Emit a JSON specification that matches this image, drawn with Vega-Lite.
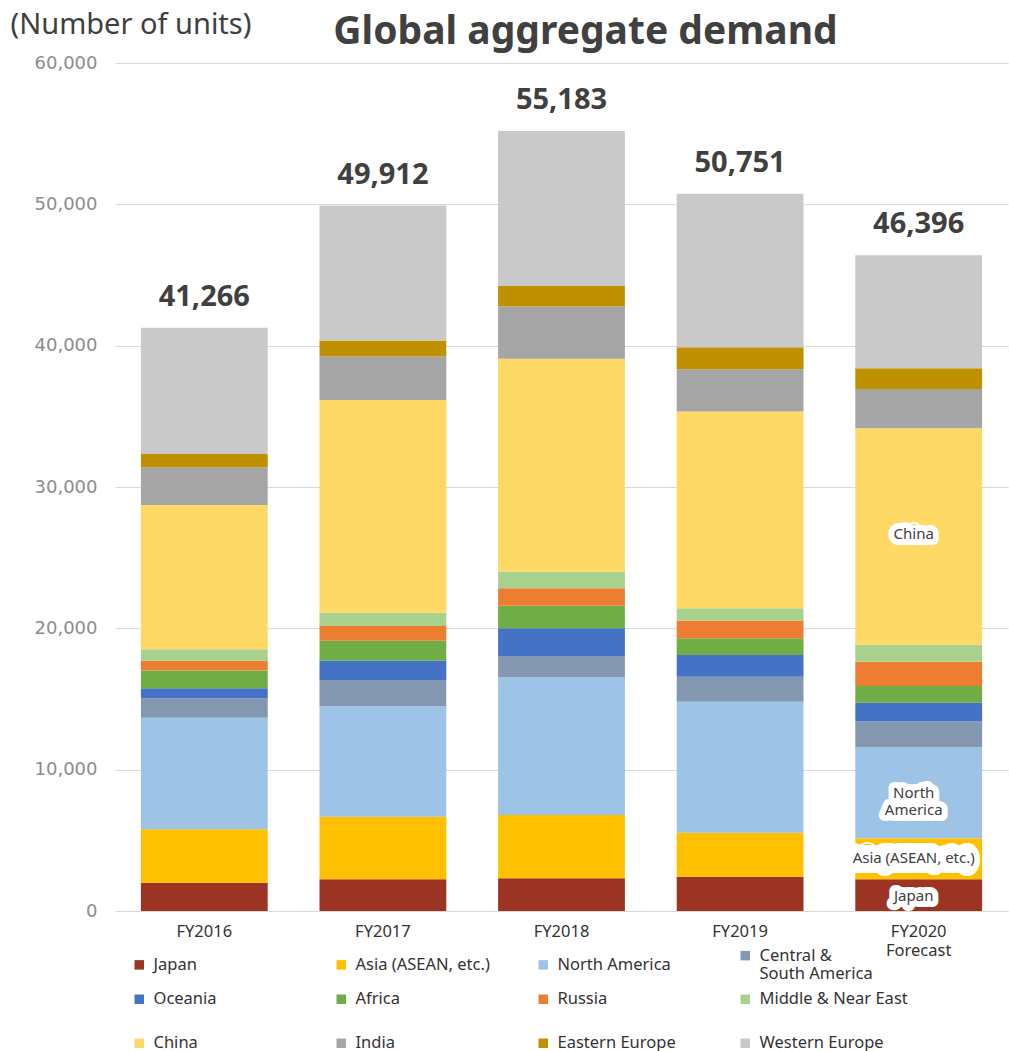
{
  "$schema": "https://vega.github.io/schema/vega-lite/v6.json",
  "width": 893,
  "height": 848,
  "autosize": "none",
  "padding": {"left": 115, "top": 63, "right": 1, "bottom": 140},
  "background": "white",
  "config": {"view": {"stroke": null}, "font": "Noto Sans"},
  "title": {"text": "Global aggregate demand", "fontSize": 39, "fontWeight": "bold", "color": "#404040", "font": "Noto Sans", "anchor": "middle", "dx": 24, "offset": -42},
  "datasets": {
    "demand": [
      {"year": "FY2016", "region": "Japan", "units": 2000},
      {"year": "FY2016", "region": "Asia (ASEAN, etc.)", "units": 3780},
      {"year": "FY2016", "region": "North America", "units": 7900},
      {"year": "FY2016", "region": "Central & South America", "units": 1370},
      {"year": "FY2016", "region": "Oceania", "units": 710},
      {"year": "FY2016", "region": "Africa", "units": 1250},
      {"year": "FY2016", "region": "Russia", "units": 700},
      {"year": "FY2016", "region": "Middle & Near East", "units": 810},
      {"year": "FY2016", "region": "China", "units": 10210},
      {"year": "FY2016", "region": "India", "units": 2670},
      {"year": "FY2016", "region": "Eastern Europe (excluding Russia)", "units": 940},
      {"year": "FY2016", "region": "Western Europe", "units": 8926},
      {"year": "FY2017", "region": "Japan", "units": 2240},
      {"year": "FY2017", "region": "Asia (ASEAN, etc.)", "units": 4430},
      {"year": "FY2017", "region": "North America", "units": 7840},
      {"year": "FY2017", "region": "Central & South America", "units": 1840},
      {"year": "FY2017", "region": "Oceania", "units": 1360},
      {"year": "FY2017", "region": "Africa", "units": 1420},
      {"year": "FY2017", "region": "Russia", "units": 1040},
      {"year": "FY2017", "region": "Middle & Near East", "units": 940},
      {"year": "FY2017", "region": "China", "units": 15050},
      {"year": "FY2017", "region": "India", "units": 3070},
      {"year": "FY2017", "region": "Eastern Europe (excluding Russia)", "units": 1130},
      {"year": "FY2017", "region": "Western Europe", "units": 9552},
      {"year": "FY2018", "region": "Japan", "units": 2310},
      {"year": "FY2018", "region": "Asia (ASEAN, etc.)", "units": 4480},
      {"year": "FY2018", "region": "North America", "units": 9750},
      {"year": "FY2018", "region": "Central & South America", "units": 1510},
      {"year": "FY2018", "region": "Oceania", "units": 1960},
      {"year": "FY2018", "region": "Africa", "units": 1580},
      {"year": "FY2018", "region": "Russia", "units": 1250},
      {"year": "FY2018", "region": "Middle & Near East", "units": 1170},
      {"year": "FY2018", "region": "China", "units": 15060},
      {"year": "FY2018", "region": "India", "units": 3700},
      {"year": "FY2018", "region": "Eastern Europe (excluding Russia)", "units": 1460},
      {"year": "FY2018", "region": "Western Europe", "units": 10953},
      {"year": "FY2019", "region": "Japan", "units": 2430},
      {"year": "FY2019", "region": "Asia (ASEAN, etc.)", "units": 3110},
      {"year": "FY2019", "region": "North America", "units": 9270},
      {"year": "FY2019", "region": "Central & South America", "units": 1770},
      {"year": "FY2019", "region": "Oceania", "units": 1540},
      {"year": "FY2019", "region": "Africa", "units": 1180},
      {"year": "FY2019", "region": "Russia", "units": 1250},
      {"year": "FY2019", "region": "Middle & Near East", "units": 870},
      {"year": "FY2019", "region": "China", "units": 13920},
      {"year": "FY2019", "region": "India", "units": 3000},
      {"year": "FY2019", "region": "Eastern Europe (excluding Russia)", "units": 1550},
      {"year": "FY2019", "region": "Western Europe", "units": 10861},
      {"year": "FY2020", "region": "Japan", "units": 2240},
      {"year": "FY2020", "region": "Asia (ASEAN, etc.)", "units": 2900},
      {"year": "FY2020", "region": "North America", "units": 6450},
      {"year": "FY2020", "region": "Central & South America", "units": 1810},
      {"year": "FY2020", "region": "Oceania", "units": 1340},
      {"year": "FY2020", "region": "Africa", "units": 1180},
      {"year": "FY2020", "region": "Russia", "units": 1720},
      {"year": "FY2020", "region": "Middle & Near East", "units": 1190},
      {"year": "FY2020", "region": "China", "units": 15330},
      {"year": "FY2020", "region": "India", "units": 2780},
      {"year": "FY2020", "region": "Eastern Europe (excluding Russia)", "units": 1470},
      {"year": "FY2020", "region": "Western Europe", "units": 7986}
    ],
    "notes": [
      {"year": "FY2020", "label": "China", "units": 26680},
      {"year": "FY2020", "label": "North\nAmerica", "units": 8350},
      {"year": "FY2020", "label": "Asia (ASEAN, etc.)", "units": 3750},
      {"year": "FY2020", "label": "Japan", "units": 1060}
    ]
  },
  "layer": [
    {
      "data": {"name": "demand"},
      "transform": [{"calculate": "indexof(['Japan', 'Asia (ASEAN, etc.)', 'North America', 'Central & South America', 'Oceania', 'Africa', 'Russia', 'Middle & Near East', 'China', 'India', 'Eastern Europe (excluding Russia)', 'Western Europe'], datum.region)", "as": "stackorder"}],
      "mark": {"type": "bar"},
      "encoding": {
        "x": {
          "field": "year", "type": "nominal", "title": null,
          "scale": {"paddingInner": 0.29, "paddingOuter": 0.145},
          "axis": {
            "labelAngle": 0, "domain": false, "ticks": false, "labelPadding": 12,
            "labelFontSize": 16.5, "labelColor": "#333333", "labelFont": "Noto Sans",
            "labelBaseline": "top", "labelLineHeight": 19,
            "labelExpr": "datum.value == 'FY2020' ? ['FY2020', 'Forecast'] : datum.value"
          }
        },
        "y": {
          "field": "units", "type": "quantitative", "stack": "zero",
          "title": "(Number of units)",
          "scale": {"domain": [0, 60000], "nice": false},
          "axis": {
            "values": [0, 10000, 20000, 30000, 40000, 50000, 60000],
            "format": ",.0f", "domain": false, "ticks": false, "labelPadding": 18,
            "labelFontSize": 18, "labelColor": "#8c8c8c", "labelFont": "DejaVu Sans",
            "gridColor": "#d9d9d9", "gridWidth": 1.2,
            "titleAngle": 0, "titleX": -105, "titleY": -39, "titleAlign": "left",
            "titleBaseline": "middle", "titleFontSize": 29, "titleFontWeight": "normal",
            "titleColor": "#404040", "titleFont": "Noto Sans"
          }
        },
        "order": {"field": "stackorder", "type": "quantitative", "sort": "ascending"},
        "color": {
          "field": "region", "type": "nominal",
          "sort": ["Japan", "Asia (ASEAN, etc.)", "North America", "Central & South America", "Oceania", "Africa", "Russia", "Middle & Near East", "China", "India", "Eastern Europe (excluding Russia)", "Western Europe"],
          "scale": {
            "domain": ["Japan", "Asia (ASEAN, etc.)", "North America", "Central & South America", "Oceania", "Africa", "Russia", "Middle & Near East", "China", "India", "Eastern Europe (excluding Russia)", "Western Europe"],
            "range": ["#9c3423", "#ffc000", "#9dc3e6", "#8497b0", "#4472c4", "#70ad47", "#ed7d31", "#a9d18e", "#ffd966", "#a5a5a5", "#bf9000", "#c9c9c9"]
          },
          "legend": {
            "title": null, "orient": "none", "legendX": 16, "legendY": 884,
            "direction": "horizontal", "columns": 4, "gridAlign": "all",
            "columnPadding": 31, "rowPadding": 8, "padding": 0,
            "symbolType": "square", "symbolSize": 90, "symbolStrokeWidth": 0,
            "labelFontSize": 16.5, "labelFont": "Noto Sans", "labelColor": "#333333",
            "labelOffset": 6, "labelLimit": 300,
            "labelExpr": "datum.label == 'Central & South America' ? ['Central &', 'South America'] : datum.label == 'Eastern Europe (excluding Russia)' ? ['Eastern Europe', '(excluding Russia)'] : datum.label"
          }
        }
      }
    },
    {
      "data": {"name": "demand"},
      "transform": [{"aggregate": [{"op": "sum", "field": "units", "as": "units"}], "groupby": ["year"]}],
      "mark": {"type": "text", "fontSize": 29, "fontWeight": "bold", "color": "#404040", "font": "Noto Sans", "baseline": "middle", "dy": -31},
      "encoding": {
        "x": {"field": "year", "type": "nominal", "title": null},
        "y": {"field": "units", "type": "quantitative", "title": "(Number of units)"},
        "text": {"field": "units", "type": "quantitative", "format": ","}
      }
    },
    {
      "data": {"name": "notes"},
      "transform": [{"filter": "datum.label == 'Asia (ASEAN, etc.)'"}],
      "mark": {"type": "text", "fontSize": 15, "font": "Noto Sans", "color": "white", "stroke": "white", "strokeWidth": 20, "strokeJoin": "round", "baseline": "middle", "dx": -9},
      "encoding": {
        "x": {"field": "year", "type": "nominal", "title": null},
        "y": {"field": "units", "type": "quantitative", "title": "(Number of units)"},
        "text": {"field": "label"}
      }
    },
    {
      "data": {"name": "notes"},
      "transform": [{"filter": "datum.label != 'Asia (ASEAN, etc.)'"}],
      "mark": {"type": "text", "fontSize": 15, "font": "Noto Sans", "color": "white", "stroke": "white", "strokeWidth": 12, "strokeJoin": "round", "strokeCap": "round", "lineBreak": "\n", "baseline": "middle", "dx": -5},
      "encoding": {
        "x": {"field": "year", "type": "nominal", "title": null},
        "y": {"field": "units", "type": "quantitative", "title": "(Number of units)"},
        "text": {"field": "label"}
      }
    },
    {
      "data": {"name": "notes"},
      "mark": {"type": "text", "fontSize": 15, "font": "Noto Sans", "color": "#404040", "lineBreak": "\n", "baseline": "middle", "dx": -5},
      "encoding": {
        "x": {"field": "year", "type": "nominal", "title": null},
        "y": {"field": "units", "type": "quantitative", "title": "(Number of units)"},
        "text": {"field": "label"}
      }
    }
  ]
}
